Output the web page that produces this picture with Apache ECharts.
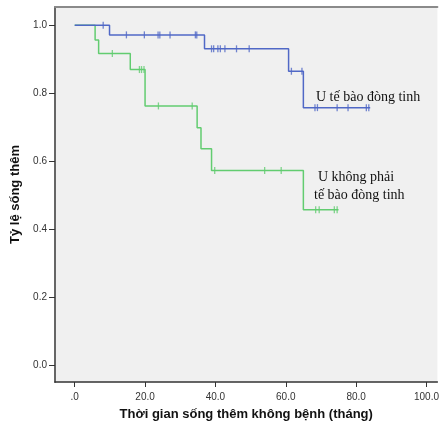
<!DOCTYPE html>
<html><head><meta charset="utf-8">
<script src="https://cdn.jsdelivr.net/npm/echarts@6/dist/echarts.min.js"></script>
<style>html,body{margin:0;padding:0;background:#fff}#c{width:442px;height:429px}</style>
</head><body><div id="c"></div>
<script>
// Kaplan-Meier step data (time in months, survival proportion)
const blueEventTimes = [0, 9.9, 36.9, 60.8, 65.0];
const blueSurvival   = [1.0, 0.972, 0.931, 0.865, 0.758];
const blueEndTime = 84.0;
const blueCensorTimes = [8.1, 14.7, 19.8, 23.7, 24.2, 27.1, 34.3, 34.7, 38.9, 39.5, 40.7, 41.4, 42.7, 46.0, 49.6, 61.6, 64.6, 68.3, 69.0, 74.6, 77.7, 82.9, 83.6];

const greenEventTimes = [0, 5.8, 6.8, 15.8, 20.0, 34.8, 35.9, 38.9, 65.0];
const greenSurvival   = [1.0, 0.957, 0.917, 0.870, 0.763, 0.699, 0.637, 0.573, 0.458];
const greenEndTime = 75.0;
const greenCensorTimes = [10.7, 18.4, 19.0, 19.7, 23.8, 33.4, 39.8, 54.0, 58.7, 68.5, 69.5, 73.8, 74.6];

const xTicks = [0, 20, 40, 60, 80, 100];
const xTickLabels = ['.0', '20.0', '40.0', '60.0', '80.0', '100.0'];
const yTicks = [0, 0.2, 0.4, 0.6, 0.8, 1.0];
const yTickLabels = ['0.0', '0.2', '0.4', '0.6', '0.8', '1.0'];

const groupNames = ['U tế bào đòng tinh', 'U không phải\ntế bào đòng tinh'];
const xTitle = 'Thời gian sống thêm không bệnh (tháng)';
const yTitle = 'Tỷ lệ sống thêm';

function stepData(times, surv, end) {
  const d = times.map((t, i) => [t, surv[i]]);
  d.push([end, surv[surv.length - 1]]);
  return d;
}
function survAt(times, surv, t) {
  let s = surv[0];
  for (let i = 0; i < times.length; i++) if (times[i] <= t) s = surv[i];
  return s;
}
const BLUE = '#5068c6', GREEN = '#62cc70';
const labelFont = '14px "Liberation Serif", "Times New Roman", serif';
const greenLines = groupNames[1].split('\n');

const chart = echarts.init(document.getElementById('c'), null, {renderer: 'canvas'});
chart.setOption({
  animation: false,
  backgroundColor: '#ffffff',
  grid: {left: 55, top: 7, right: 0, bottom: 47, show: true, backgroundColor: '#f0f0f0', borderWidth: 0},
  xAxis: [{
    type: 'value', min: -5.6, max: 103.1, position: 'bottom',
    axisLine: {show: true, onZero: false, lineStyle: {color: '#333', width: 1.5}},
    axisTick: {show: true, length: 5, customValues: xTicks, lineStyle: {color: '#333'}},
    axisLabel: {customValues: xTicks, color: '#333', fontSize: 10, fontFamily: 'Liberation Sans, Arial', margin: 10,
      formatter: v => xTickLabels[xTicks.indexOf(Math.round(v))] || ''},
    splitLine: {show: false},
    name: xTitle, nameLocation: 'middle', nameGap: 26,
    nameTextStyle: {fontSize: 13, fontWeight: 'bold', color: '#111', fontFamily: 'Liberation Sans, Arial'}
  }, {
    type: 'value', min: -5.6, max: 103.1, position: 'top',
    axisLine: {show: true, onZero: false, lineStyle: {color: '#8a8a8a', width: 2}},
    axisTick: {show: false}, axisLabel: {show: false}, splitLine: {show: false}
  }],
  yAxis: {
    type: 'value', min: -0.049, max: 1.054,
    axisLine: {show: true, onZero: false, lineStyle: {color: '#666', width: 2}},
    axisTick: {show: true, length: 6, customValues: yTicks, lineStyle: {color: '#333'}},
    axisLabel: {customValues: yTicks, color: '#333', fontSize: 10, fontFamily: 'Liberation Sans, Arial', margin: 8,
      formatter: v => yTickLabels[yTicks.findIndex(t => Math.abs(t - v) < 1e-6)] || ''},
    splitLine: {show: false},
    name: yTitle, nameLocation: 'middle', nameGap: 29,
    nameTextStyle: {fontSize: 13, fontWeight: 'bold', color: '#111', fontFamily: 'Liberation Sans, Arial'}
  },
  series: [
    {type: 'line', step: 'end', data: stepData(blueEventTimes, blueSurvival, blueEndTime), showSymbol: false,
      lineStyle: {color: BLUE, width: 1.5}, z: 3},
    {type: 'line', step: 'end', data: stepData(greenEventTimes, greenSurvival, greenEndTime), showSymbol: false,
      lineStyle: {color: GREEN, width: 1.5}, z: 2},
    {type: 'scatter', data: blueCensorTimes.map(t => [t, survAt(blueEventTimes, blueSurvival, t)]),
      symbol: 'rect', symbolSize: [1.3, 7], itemStyle: {color: BLUE}, z: 4},
    {type: 'scatter', data: greenCensorTimes.map(t => [t, survAt(greenEventTimes, greenSurvival, t)]),
      symbol: 'rect', symbolSize: [1.3, 7], itemStyle: {color: GREEN}, z: 4}
  ],
  graphic: [
    {type: 'text', left: 316, top: 90, style: {text: groupNames[0], font: labelFont, fill: '#111'}},
    {type: 'text', left: 318, top: 170, style: {text: greenLines[0], font: labelFont, fill: '#111'}},
    {type: 'text', left: 314, top: 188, style: {text: greenLines[1], font: labelFont, fill: '#111'}}
  ]
});
</script></body></html>
